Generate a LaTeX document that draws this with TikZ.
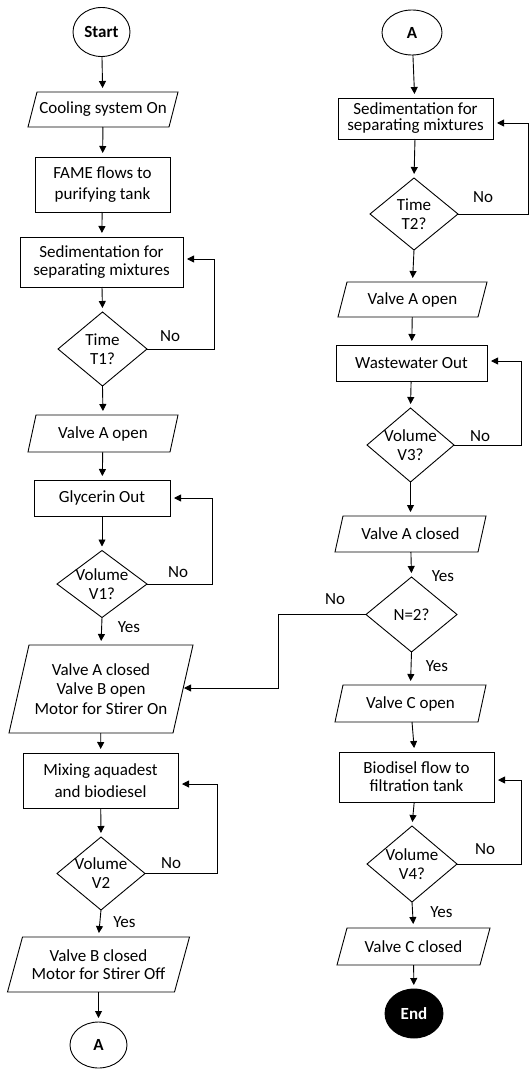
\documentclass[tikz,border=0pt]{standalone}
\usepackage{fontspec}
\setmainfont{Carlito}
\usetikzlibrary{arrows.meta,calc,shapes.geometric}
\tikzset{
  base/.style={inner sep=0pt, outer sep=0pt, align=center, font=\fontsize{17}{18}\selectfont},
  box/.style={base, draw, rectangle, line width=0.9pt},
  plain/.style={base, rectangle},
  term/.style={base, draw, ellipse, line width=0.9pt, font=\bfseries\fontsize{17}{18}\selectfont},
  arr/.style={-{Triangle[length=7pt,width=7pt]}, line width=0.9pt, shorten >=4pt},
  lab/.style={font=\fontsize{17}{18}\selectfont, inner sep=0pt},
  edge/.style={line width=0.9pt},
}
\newcommand\paradraw[2]{\draw[edge] ($(#1.north west)+(#2,0)$) -- ($(#1.north east)+(#2,0)$) -- ($(#1.south east)-(#2,0)$) -- ($(#1.south west)-(#2,0)$) -- cycle;}
\newcommand\diadraw[1]{\draw[edge] (#1.north) -- (#1.east) -- (#1.south) -- (#1.west) -- cycle;}
\begin{document}
\begin{tikzpicture}[x=1pt,y=-1pt]
\fill[white] (0,0) rectangle (530,1070);
\useasboundingbox (0,0) rectangle (530,1070);
% ---------- left column ----------
\node[term, minimum width=57pt, minimum height=49pt] (start) at (101.5,32) {Start};
\node[plain, minimum width=141pt, minimum height=35pt] (cool) at (103,109.5) {Cooling system On};
\node[box, minimum width=135pt, minimum height=55pt] (fame) at (102.5,184.5) {FAME flows to\\[3pt]purifying tank};
\node[box, minimum width=163pt, minimum height=50pt] (sed1) at (101.5,262) {Sedimentation for\\separating mixtures};
\node[plain, minimum width=89pt, minimum height=74pt] (t1) at (102.5,349) {Time\\[1pt]T1?};
\node[plain, minimum width=142pt, minimum height=37pt] (va1) at (103,433.5) {Valve A open};
\node[box, minimum width=136pt, minimum height=36pt] (gly) at (102,498) {Glycerin Out};
\node[plain, minimum width=90pt, minimum height=67pt] (v1) at (102,584) {Volume\\[1pt]V1?};
\node[plain, minimum width=164pt, minimum height=88pt] (big) at (101,689) {Valve A closed\\[1.5pt]Valve B open\\[1.5pt]Motor for Stirer On};
\node[box, minimum width=155pt, minimum height=55pt] (mix) at (100.5,780.5) {Mixing aquadest\\[4pt]and biodiesel};
\node[plain, minimum width=88pt, minimum height=73pt] (v2) at (101,873.5) {Volume\\[1pt]V2};
\node[plain, minimum width=167pt, minimum height=55pt] (vb) at (98.5,964.5) {Valve B closed\\Motor for Stirer Off};
\node[term, minimum width=57pt, minimum height=46pt] (a1) at (98.5,1045) {A};
\paradraw{cool}{4.5}
\diadraw{t1}
\paradraw{va1}{4}
\diadraw{v1}
\paradraw{big}{10}
\diadraw{v2}
\paradraw{vb}{7.5}
% ---------- right column ----------
\node[term, minimum width=60pt, minimum height=45pt] (a2) at (412,32.5) {A};
\node[box, minimum width=155pt, minimum height=41pt] (sed2) at (415.5,118.5) {Sedimentation for\\[-2pt]separating mixtures};
\node[plain, minimum width=88pt, minimum height=72pt] (t2) at (414,214) {Time\\[1pt]T2?};
\node[plain, minimum width=140pt, minimum height=35pt] (va2) at (412.5,299.5) {Valve A open};
\node[box, minimum width=151pt, minimum height=36pt] (ww) at (411.5,363) {Wastewater Out};
\node[plain, minimum width=87pt, minimum height=74pt] (v3) at (410.5,445) {Volume\\[1pt]V3?};
\node[plain, minimum width=143pt, minimum height=36pt] (vac) at (410.5,534) {Valve A closed};
\node[plain, minimum width=91pt, minimum height=75pt] (n2) at (411.5,614.5) {N=2?};
\node[plain, minimum width=143pt, minimum height=37pt] (vc) at (410.5,703.5) {Valve C open};
\node[box, minimum width=155pt, minimum height=50pt] (bio) at (416.5,777) {Biodisel flow to\\filtration tank};
\node[plain, minimum width=90pt, minimum height=76pt] (v4) at (412,864) {Volume\\[1pt]V4?};
\node[plain, minimum width=143pt, minimum height=37pt] (vcc) at (413.5,946.5) {Valve C closed};
\node[term, fill=black, text=white, minimum width=58pt, minimum height=49pt] (end) at (414,1013.5) {End};
\diadraw{t2}
\paradraw{va2}{4.5}
\diadraw{v3}
\paradraw{vac}{4}
\diadraw{n2}
\paradraw{vc}{4}
\diadraw{v4}
\paradraw{vcc}{5}
% ---------- straight arrows ----------
\draw[arr] (start) -- (cool);
\draw[arr] (cool) -- (fame);
\draw[arr] (fame) -- (sed1);
\draw[arr] (sed1) -- (t1.north);
\draw[arr] (t1.south) -- (va1.north);
\draw[arr] (va1) -- (gly);
\draw[arr] (gly) -- (v1.north);
\draw[arr] (v1.south) -- (big.north);
\draw[arr] (big) -- (mix);
\draw[arr] (mix) -- (v2.north);
\draw[arr] (v2.south) -- (vb.north);
\draw[arr] (vb) -- (a1);
\draw[arr] (a2) -- (sed2);
\draw[arr] (sed2) -- (t2.north);
\draw[arr] (t2.south) -- (va2.north);
\draw[arr] (va2) -- (ww);
\draw[arr] (ww) -- (v3.north);
\draw[arr] (v3.south) -- (vac.north);
\draw[arr] (vac) -- (n2.north);
\draw[arr] (n2.south) -- (vc.north);
\draw[arr] (vc) -- (bio);
\draw[arr] (bio) -- (v4.north);
\draw[arr] (v4.south) -- (vcc.north);
\draw[arr] (vcc) -- (end);
% ---------- loop-back arrows ----------
\coordinate (l1) at (214,259);
\coordinate (l2) at (212,498);
\coordinate (l3) at (217,784);
\coordinate (r1) at (528.5,123);
\coordinate (r2) at (521,361);
\coordinate (r3) at (521,780);
\coordinate (nb) at (278,688);
\draw[arr] (t1.east) -| (l1) -- (sed1.east |- l1);
\draw[arr] (v1.east) -| (l2) -- (gly.east |- l2);
\draw[arr] (v2.east) -| (l3) -- (mix.east |- l3);
\draw[arr] (t2.east) -| (r1) -- (sed2.east |- r1);
\draw[arr] (v3.east) -| (r2) -- (ww.east |- r2);
\draw[arr] (v4.east) -| (r3) -- (bio.east |- r3);
\draw[arr, shorten >=1pt] (n2.west) -| (nb) -- (big.east |- nb);
% ---------- labels ----------
\node[lab] (no1) at (170,336) {No};
\node[lab] (no2) at (178,572) {No};
\node[lab] (yes1) at (129,627) {Yes};
\node[lab] (no3) at (171,863) {No};
\node[lab] (yes2) at (124.5,922) {Yes};
\node[lab] (no4) at (483,197) {No};
\node[lab] (no5) at (480,436) {No};
\node[lab] (yes3) at (443,576) {Yes};
\node[lab] (no6) at (335,599) {No};
\node[lab] (yes4) at (437,666) {Yes};
\node[lab] (no7) at (485,849) {No};
\node[lab] (yes5) at (441.5,912) {Yes};
\end{tikzpicture}
\end{document}
